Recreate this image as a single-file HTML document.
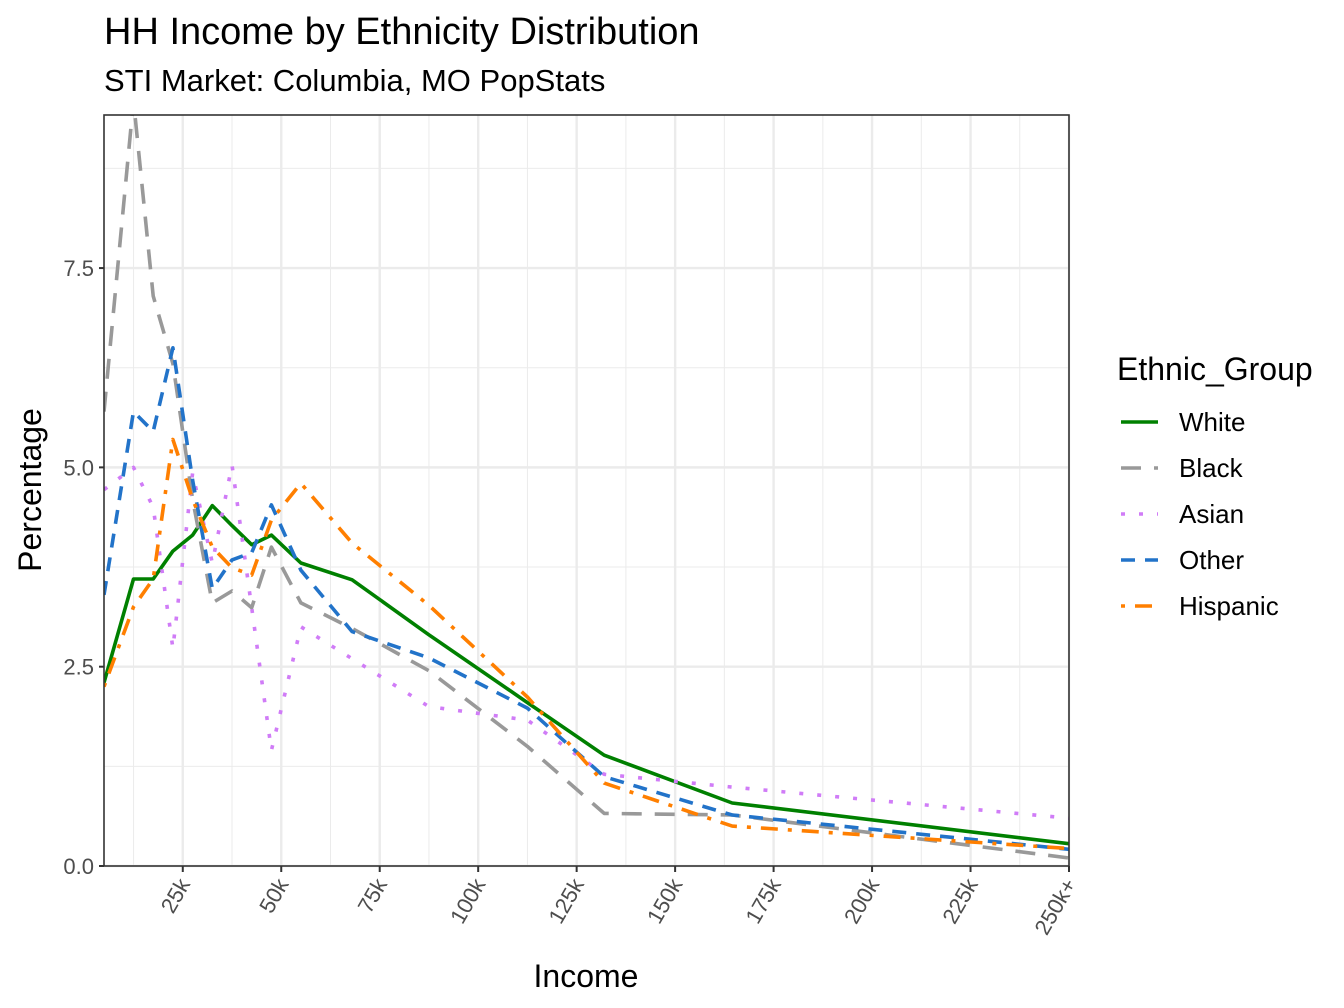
<!DOCTYPE html>
<html><head><meta charset="utf-8"><style>
html,body{margin:0;padding:0;background:#fff;}
svg{display:block;font-family:"Liberation Sans",Arial,sans-serif;}
</style></head><body>
<svg id="chart" xmlns="http://www.w3.org/2000/svg" width="1344" height="1008" viewBox="0 0 1344 1008">
<rect width="1344" height="1008" fill="#fff"/>
<text x="104" y="44" font-size="38" fill="#000">HH Income by Ethnicity Distribution</text>
<text x="104" y="91" font-size="31" fill="#000">STI Market: Columbia, MO PopStats</text>
<g id="grid"></g>
<g id="series"></g>
<rect x="104" y="115" width="965" height="751" fill="none" stroke="#333" stroke-width="1.6"/>
<g id="axes"></g>
<text transform="translate(41,490) rotate(-90)" text-anchor="middle" font-size="32" fill="#000">Percentage</text>
<text x="586" y="987" text-anchor="middle" font-size="32" fill="#000">Income</text>
<g id="legend">
<text x="1117" y="380" font-size="32" fill="#000">Ethnic_Group</text>
</g>
</svg>
<script>
const incomeK = [5, 12.5, 17.5, 22.5, 27.5, 32.5, 37.5, 42.5, 47.5, 55, 68, 87.5, 112.5, 132, 164.5, 250];
const white = [2.3, 3.6, 3.6, 3.95, 4.15, 4.52, 4.27, 4.03, 4.15, 3.8, 3.59, 2.9, 2.05, 1.39, 0.79, 0.28];
const black = [5.7, 9.6, 7.15, 6.3, 4.6, 3.3, 3.45, 3.24, 4.0, 3.3, 2.98, 2.45, 1.5, 0.66, 0.64, 0.1];
const asian = [4.72, 5.0, 4.5, 2.73, 4.93, 3.8, 5.03, 3.24, 1.45, 3.0, 2.6, 2.0, 1.83, 1.15, 0.99, 0.6];
const other = [3.4, 5.7, 5.45, 6.5, 4.84, 3.48, 3.84, 3.93, 4.53, 3.71, 2.94, 2.61, 1.98, 1.12, 0.64, 0.21];
const hispanic = [2.25, 3.25, 3.6, 5.35, 4.6, 4.0, 3.74, 3.65, 4.34, 4.8, 4.05, 3.27, 2.12, 1.04, 0.5, 0.22];
const xTickValues = [25, 50, 75, 100, 125, 150, 175, 200, 225, 250];
const xTickLabels = ["25k", "50k", "75k", "100k", "125k", "150k", "175k", "200k", "225k", "250k+"];
const yTickValues = [0, 2.5, 5, 7.5];
const yTickLabels = ["0.0", "2.5", "5.0", "7.5"];
const groupNames = ["White", "Black", "Asian", "Other", "Hispanic"];

const NS = "http://www.w3.org/2000/svg";
const X0 = 104, X1 = 1069, Y0 = 866, Y1 = 115;
const xMin = 5, xMax = 250, yMin = 0, yMax = 9.42;
function xs(k){ return X0 + (k - xMin) / (xMax - xMin) * (X1 - X0); }
function ys(v){ return Y0 - (v - yMin) / (yMax - yMin) * (Y0 - Y1); }
function mk(tag, attrs, parent){ const e = document.createElementNS(NS, tag); for (const k in attrs) e.setAttribute(k, attrs[k]); parent.appendChild(e); return e; }

const grid = document.getElementById("grid");
mk("rect", {x: X0, y: Y1, width: X1 - X0, height: Y0 - Y1, fill: "#fff"}, grid);
for (let v = 1.25; v < yMax; v += 2.5) {
  const l = mk("line", {x1: X0, x2: X1, y1: ys(v), y2: ys(v), stroke: "#ebebeb", "stroke-width": 1}, grid);
  
  
}
for (let k = 12.5; k < xMax; k += 25) {
  const l = mk("line", {x1: xs(k), x2: xs(k), y1: Y1, y2: Y0, stroke: "#ebebeb", "stroke-width": 1}, grid);
  
  
}
yTickValues.forEach(v => {
  const l = mk("line", {x1: X0, x2: X1, y1: ys(v), y2: ys(v), stroke: "#ebebeb", "stroke-width": 2.4}, grid);
  
  
});
xTickValues.forEach(k => {
  const l = mk("line", {x1: xs(k), x2: xs(k), y1: Y1, y2: Y0, stroke: "#ebebeb", "stroke-width": 2.4}, grid);
  
  
});

const styles = [
  {data: white, color: "#008000", dash: ""},
  {data: black, color: "#999999", dash: "20,13"},
  {data: asian, color: "#d07cf7", dash: "4,14"},
  {data: other, color: "#2273c9", dash: "14,10"},
  {data: hispanic, color: "#ff7f00", dash: "4,10,17,10"}
];
const seriesG = document.getElementById("series");
const clip = mk("clipPath", {id: "pc"}, mk("defs", {}, seriesG));
mk("rect", {x: X0, y: Y1, width: X1 - X0, height: Y0 - Y1}, clip);
styles.forEach((s, i) => {
  const d = s.data.map((v, j) => (j ? "L" : "M") + xs(incomeK[j]).toFixed(1) + "," + ys(v).toFixed(1)).join(" ");
  const p = mk("path", {d: d, fill: "none", stroke: s.color, "stroke-width": 3.6, "stroke-dasharray": s.dash, "stroke-linejoin": "round", "clip-path": "url(#pc)"}, seriesG);
  
  
});

const axes = document.getElementById("axes");
yTickValues.forEach((v, i) => {
  const t = mk("line", {x1: X0 - 5, x2: X0, y1: ys(v), y2: ys(v), stroke: "#333", "stroke-width": 2}, axes);
  
  
  const tx = mk("text", {x: X0 - 10, y: ys(v) + 8, "text-anchor": "end", "font-size": 22, fill: "#4d4d4d"}, axes);
  tx.textContent = yTickLabels[i];
  
  
});
xTickValues.forEach((k, i) => {
  const x = xs(k);
  const t = mk("line", {x1: x, x2: x, y1: Y0, y2: Y0 + 6, stroke: "#333", "stroke-width": 2}, axes);
  
  
  const tx = mk("text", {transform: "translate(" + (x + 8) + "," + (Y0 + 18) + ") rotate(-60)", "text-anchor": "end", "font-size": 22, fill: "#4d4d4d"}, axes);
  tx.textContent = xTickLabels[i];
  
  
});

const legend = document.getElementById("legend");
styles.forEach((s, i) => {
  const y = 422 + i * 46;
  const l = mk("line", {x1: 1121, x2: 1158, y1: y, y2: y, stroke: s.color, "stroke-width": 3.6, "stroke-dasharray": s.dash}, legend);
  
  
  const t = mk("text", {x: 1179, y: y + 9, "font-size": 26, fill: "#000"}, legend);
  t.textContent = groupNames[i];
  
  
});
</script>
</body></html>
